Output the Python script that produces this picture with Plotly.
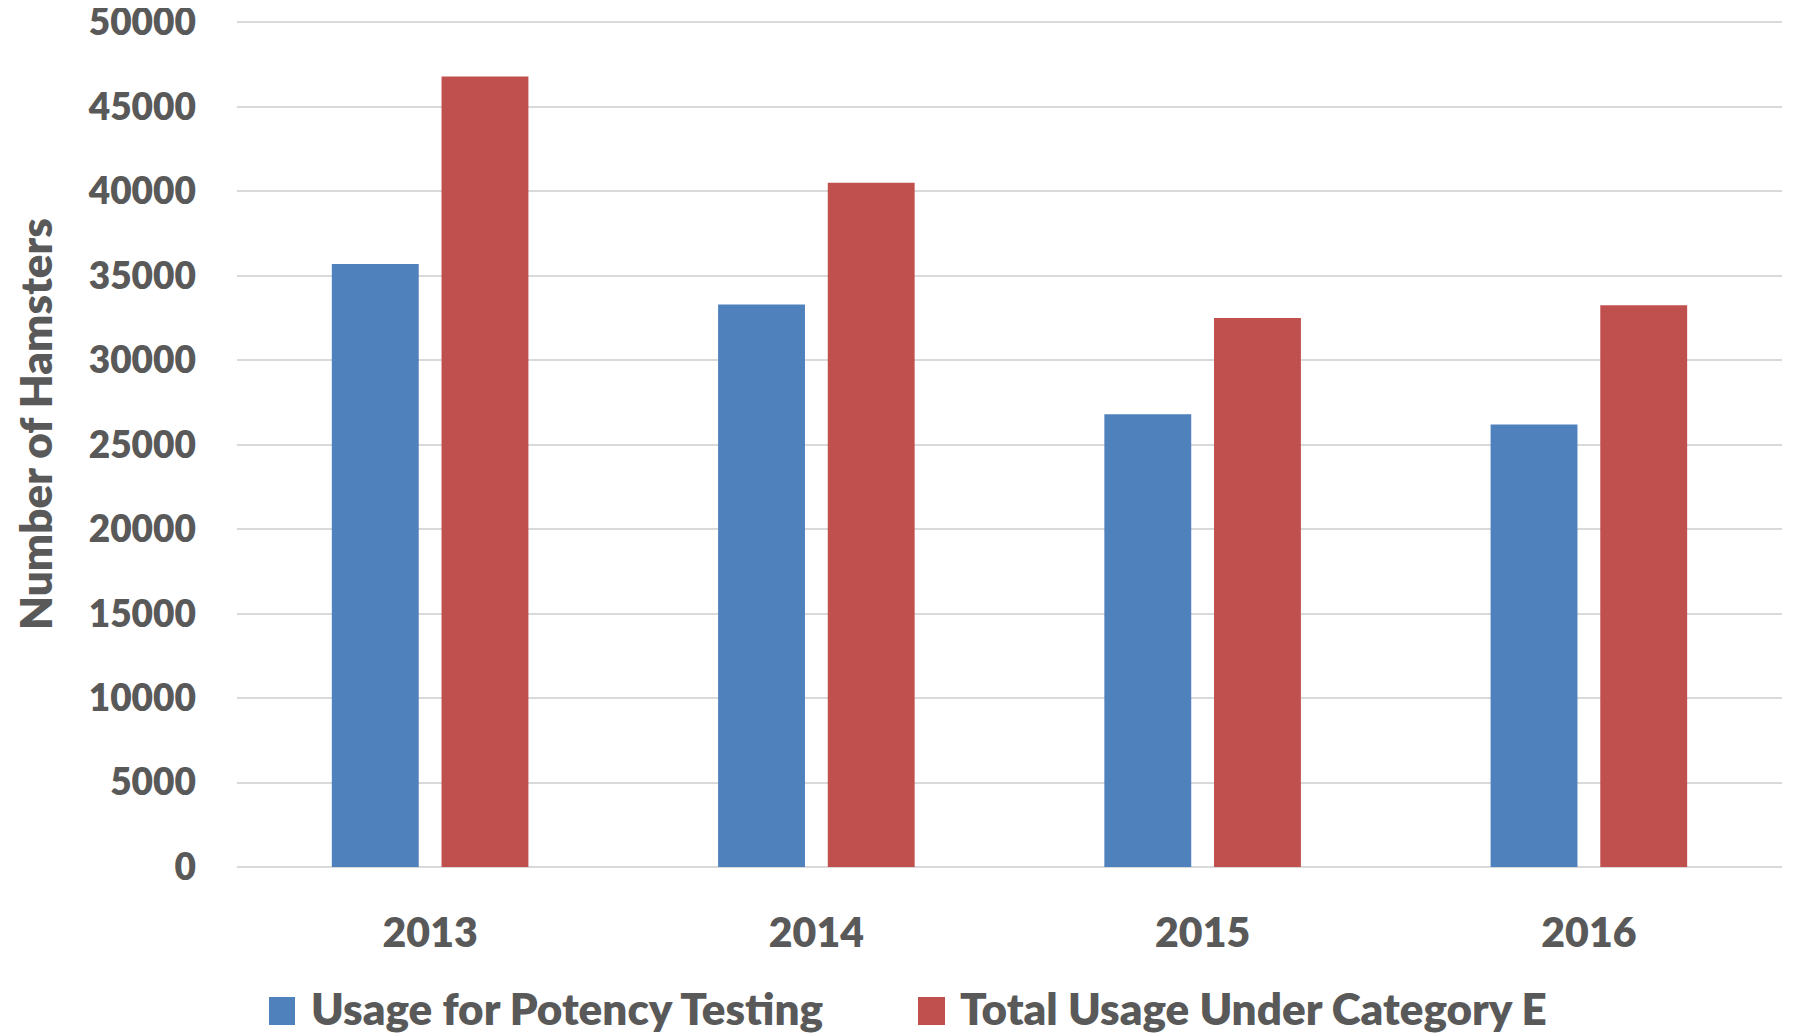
import plotly.graph_objects as go

years = ["2013", "2014", "2015", "2016"]
potency = [35700, 33300, 26800, 26200]
total_e = [46800, 40500, 32500, 33250]
series_names = ["Usage for Potency Testing", "Total Usage Under Category E"]
colors = ["#4F81BD", "#C0504D"]
y_ticks = list(range(0, 50001, 5000))

# screenshot is 1793x1035; the page body has an 8px default margin
OFF = 8
W, H = 1793 - OFF, 1035 - OFF
L, R, T, B = 237, 1782, 21, 867   # plot area in screenshot pixels
pw, ph = R - L, B - T

def px(X):
    return (X - L) / pw

def py(Y):
    return (B - Y) / ph

text_color = "#595959"
font_family = "Lato"
WT = 800

fig = go.Figure()
for name, vals, c in zip(series_names, [potency, total_e], colors):
    fig.add_trace(go.Bar(x=years, y=vals, name=name, marker=dict(color=c, line=dict(width=0)),
                         showlegend=False))

fig.update_layout(
    width=W, height=H,
    margin=dict(l=L - OFF, r=1793 - R, t=T - OFF, b=1035 - B, pad=0, autoexpand=False),
    paper_bgcolor="white", plot_bgcolor="white",
    barmode="group", bargap=0.432, bargroupgap=0.208,
    font=dict(family=font_family, color=text_color, weight=WT),
    xaxis=dict(showgrid=False, showline=False, zeroline=False, ticks="", automargin=False,
               tickfont=dict(size=41, family=font_family, color=text_color, weight=WT),
               ticklabelstandoff=38),
    yaxis=dict(range=[0, 50080], tickvals=y_ticks, ticktext=[str(v) for v in y_ticks],
               showgrid=True, gridcolor="#D9D9D9", gridwidth=2,
               zeroline=True, zerolinecolor="#D9D9D9", zerolinewidth=2,
               showline=False, ticks="", ticklabeloverflow="allow", automargin=False,
               tickfont=dict(size=37, family=font_family, color=text_color, weight=WT),
               ticklabelstandoff=40),
)

# y-axis title
fig.add_annotation(text="Number of Hamsters", xref="paper", yref="paper",
                   x=px(35), y=py(424), textangle=-90, showarrow=False,
                   xanchor="center", yanchor="middle",
                   font=dict(size=44, family=font_family, color=text_color, weight=WT))

# manual legend
legend_items = [(269, 295, 309), (918, 945, 958)]
for (sx0, sx1, tx), name, c in zip(legend_items, series_names, colors):
    fig.add_shape(type="rect", xref="paper", yref="paper",
                  x0=px(sx0), x1=px(sx1), y0=py(1025), y1=py(997),
                  fillcolor=c, line=dict(width=0))
    fig.add_annotation(text=name, xref="paper", yref="paper", x=px(tx), y=py(1008),
                       xanchor="left", yanchor="middle", showarrow=False,
                       font=dict(size=44, family=font_family, color=text_color, weight=WT))

fig.write_html("out.html")
